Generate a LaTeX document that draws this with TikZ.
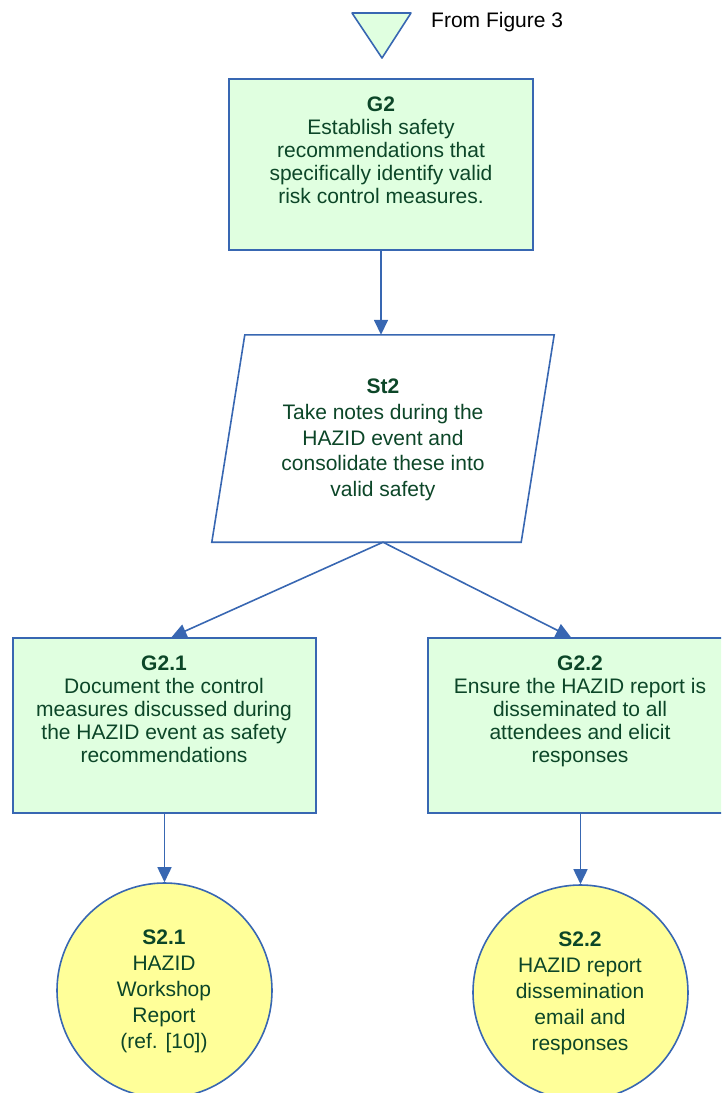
\documentclass[tikz,border=0pt]{standalone}
\usepackage{fontspec}
\setmainfont{Liberation Sans}
\usetikzlibrary{arrows.meta,calc}

\definecolor{gsnline}{RGB}{56,103,178}
\definecolor{goalfill}{RGB}{224,255,224}
\definecolor{solfill}{RGB}{255,255,153}
\definecolor{gsntext}{RGB}{12,70,40}

\begin{document}
\begin{tikzpicture}[x=1pt,y=-1pt,
  goalbox/.style={draw=gsnline, fill=goalfill, line width=1.6pt,
    minimum width=304pt, minimum height=173pt, inner sep=0pt},
  solcircle/.style={draw=gsnline, fill=solfill, line width=1.6pt,
    circle, minimum size=215pt, inner sep=0pt},
  gsnlabel/.style={text=gsntext, align=center, anchor=north, inner sep=0pt,
    font=\fontsize{21}{23}\selectfont},
  link/.style={draw=gsnline, line width=1.6pt,
    -{Triangle[length=15pt,width=14pt]}}]

\useasboundingbox (0,0) rectangle (721,1093);
\clip (0,0) rectangle (721,1093);

% off-page connector
\draw[draw=gsnline, fill=goalfill, line width=1.6pt, line join=round]
  (352,13) -- (411,13) -- (382,58) -- cycle;
\node[anchor=base west, inner sep=0pt, font=\fontsize{21}{23}\selectfont]
  (fromlbl) at (431,27) {From Figure 3};

% goal G2
\node[goalbox, minimum height=171pt] (g2) at (381,164.5) {};
\node[gsnlabel] (g2t) at (381,97)
  {\textbf{G2}\\Establish safety\\recommendations that\\specifically identify valid\\risk control measures.};

% strategy St2 (parallelogram around an invisible frame)
\node[minimum width=309pt, minimum height=207pt, inner sep=0pt] (st2) at (383,438.5) {};
\draw[draw=gsnline, fill=white, line width=1.6pt]
  ($(st2.north west)+(16.5,0)$) -- ($(st2.north east)+(16.5,0)$) --
  ($(st2.south east)+(-16.5,0)$) -- ($(st2.south west)+(-16.5,0)$) -- cycle;
\node[gsnlabel, font=\fontsize{21}{25.7}\selectfont] (st2t) at (383,379)
  {\textbf{St2}\\Take notes during the\\HAZID event and\\consolidate these into\\valid safety};

% sub-goals
\node[goalbox, minimum width=303pt, minimum height=175pt] (g21) at (164.5,725.5) {};
\node[gsnlabel] (g21t) at (164,656)
  {\textbf{G2.1}\\Document the control\\measures discussed during\\the HAZID event as safety\\recommendations};

\node[goalbox, minimum width=304pt, minimum height=175pt] (g22) at (580,725.5) {};
\node[gsnlabel] (g22t) at (580,656)
  {\textbf{G2.2}\\Ensure the HAZID report is\\disseminated to all\\attendees and elicit\\responses};

% solutions
\node[solcircle] (s21) at (164.5,990.5) {};
\node[gsnlabel, font=\fontsize{21}{26}\selectfont] (s21t) at (164,930)
  {\textbf{S2.1}\\HAZID\\Workshop\\Report\\(ref. [10])};

\node[solcircle] (s22) at (580.5,992.5) {};
\node[gsnlabel, font=\fontsize{21}{26}\selectfont] (s22t) at (580,932)
  {\textbf{S2.2}\\HAZID report\\dissemination\\email and\\responses};

% connectors
\draw[link] (g2.south) -- (g2.south |- st2.north);
\draw[link] (st2.south) -- ($(g21.north)+(7,0)$);
\draw[link] (st2.south) -- ($(g22.north)+(-9,0)$);
\draw[link] (g21.south -| s21.north) -- (s21.north);
\draw[link] (g22.south -| s22.north) -- (s22.north);
\end{tikzpicture}
\end{document}
